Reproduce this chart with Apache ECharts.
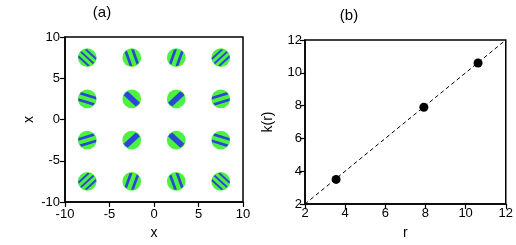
<!DOCTYPE html>
<html>
<head>
<meta charset="utf-8">
<script src="https://cdn.jsdelivr.net/npm/echarts@6/dist/echarts.min.js"></script>
<style>html,body{margin:0;padding:0;background:#fff}#c{width:516px;height:245px}</style>
</head>
<body>
<div id="c"></div>
<script>
// Panel (a): pattern centres [x, y] and stripe phase (fraction of wavelength)
const centerX = [-7.5, -2.5, 2.5, 7.5, -7.5, -2.5, 2.5, 7.5, -7.5, -2.5, 2.5, 7.5, -7.5, -2.5, 2.5, 7.5];
const centerY = [7.5, 7.5, 7.5, 7.5, 2.5, 2.5, 2.5, 2.5, -2.5, -2.5, -2.5, -2.5, -7.5, -7.5, -7.5, -7.5];
const stripePhase = [0, 0.5, 0.5, 0, 0.5, 0, 0, 0.5, 0.5, 0, 0, 0.5, 0, 0.5, 0.5, 0];
const diskRadius = 1.05;
// Panel (b)
const rValues = [3.55, 7.92, 10.62];
const kValues = [3.5, 7.9, 10.6];
const fitLine = [[2, 2], [12, 12]];

const FONT = 'Liberation Sans, Arial, sans-serif';
const patternData = centerX.map((x, i) => [x, centerY[i], stripePhase[i]]);

function renderPattern(params, api) {
  const cx = api.value(0), cy = api.value(1), ph = api.value(2);
  const R = diskRadius;
  const rr = Math.hypot(cx, cy);
  const k = rr;
  const lam = 2 * Math.PI / k;
  const w = 0.38 * lam;
  const ux = cx / rr, uy = cy / rr, tx = -uy, ty = ux;
  const c = api.coord([cx, cy]);
  const rpx = api.size([R, 0])[0];
  const children = [{
    type: 'circle', shape: {cx: c[0], cy: c[1], r: rpx},
    style: {fill: '#4cf23e'}
  }];
  for (let n = -6; n <= 6; n++) {
    const tc = (n + ph) * lam;
    let t1 = Math.max(tc - w / 2, -R * 0.99), t2 = Math.min(tc + w / 2, R * 0.99);
    if (t2 - t1 < w * 0.45) continue;
    const pts = [];
    const N = 16;
    for (let i = 0; i <= N; i++) {
      const t = t1 + (t2 - t1) * i / N;
      const u = Math.sqrt(Math.max(R * R - t * t, 0)) * 0.95;
      pts.push(api.coord([cx + u * ux + t * tx, cy + u * uy + t * ty]));
    }
    for (let i = N; i >= 0; i--) {
      const t = t1 + (t2 - t1) * i / N;
      const u = -Math.sqrt(Math.max(R * R - t * t, 0)) * 0.95;
      pts.push(api.coord([cx + u * ux + t * tx, cy + u * uy + t * ty]));
    }
    children.push({type: 'polygon', shape: {points: pts}, style: {fill: '#2b46d8'}});
  }
  return {type: 'group', children};
}

const axisCommon = {
  axisLine: {show: true, onZero: false, lineStyle: {color: '#000', width: 1.5}},
  axisTick: {show: true, inside: false, length: 5, lineStyle: {color: '#000', width: 1.2}},
  axisLabel: {color: '#000', fontSize: 13, fontFamily: FONT, margin: 3},
  splitLine: {show: false},
  nameTextStyle: {color: '#000', fontSize: 14, fontFamily: FONT},
  nameLocation: 'middle'
};

const chart = echarts.init(document.getElementById('c'), null, {renderer: 'canvas'});
chart.setOption({
  animation: false,
  backgroundColor: '#fff',
  title: [
    {text: '(a)', left: 97, top: 0, textAlign: 'center', textStyle: {fontSize: 15, fontWeight: 'normal', fontFamily: FONT, color: '#000'}},
    {text: '(b)', left: 344, top: 3, textAlign: 'center', textStyle: {fontSize: 15, fontWeight: 'normal', fontFamily: FONT, color: '#000'}}
  ],
  grid: [
    {left: 65, top: 37, width: 178, height: 178, show: true, borderColor: '#000', borderWidth: 1.5, backgroundColor: '#fff'},
    {left: 305, top: 40, width: 204, height: 173, show: true, borderColor: '#000', borderWidth: 1.5, backgroundColor: '#fff'}
  ],
  xAxis: [
    Object.assign({}, axisCommon, {gridIndex: 0, type: 'value', min: -10, max: 10, interval: 5, name: 'x', nameGap: 24,
      axisLabel: Object.assign({}, axisCommon.axisLabel, {margin: 6})}),
    Object.assign({}, axisCommon, {gridIndex: 1, type: 'value', min: 2, max: 12, interval: 2, name: 'r', nameGap: 22})
  ],
  yAxis: [
    Object.assign({}, axisCommon, {gridIndex: 0, type: 'value', min: -10, max: 10, interval: 5, name: 'x', nameGap: 29,
      axisLabel: Object.assign({}, axisCommon.axisLabel, {margin: 5})}),
    Object.assign({}, axisCommon, {gridIndex: 1, type: 'value', min: 2, max: 12, interval: 2, name: 'k(r)', nameGap: 30})
  ],
  series: [
    {type: 'custom', xAxisIndex: 0, yAxisIndex: 0, data: patternData, renderItem: renderPattern, clip: true},
    {type: 'line', xAxisIndex: 1, yAxisIndex: 1, data: fitLine, symbol: 'none',
      lineStyle: {color: '#000', width: 1, type: [4, 3]}},
    {type: 'scatter', xAxisIndex: 1, yAxisIndex: 1, data: rValues.map((r, i) => [r, kValues[i]]),
      symbol: 'circle', symbolSize: 9, itemStyle: {color: '#000', opacity: 1}}
  ]
});
</script>
</body>
</html>
